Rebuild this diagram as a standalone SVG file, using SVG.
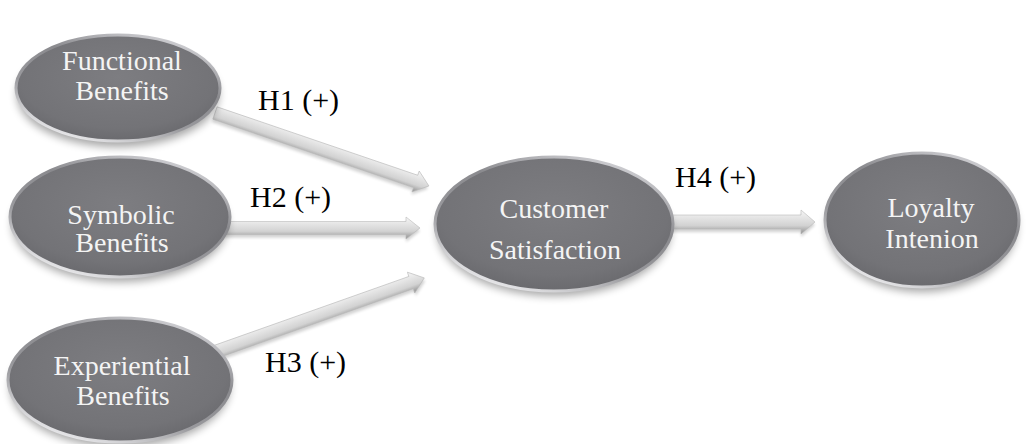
<svg xmlns="http://www.w3.org/2000/svg" width="1027" height="444" viewBox="0 0 1027 444">
  <defs>
    <radialGradient id="nodeFill" cx="0.5" cy="0.4" r="0.6">
      <stop offset="0" stop-color="#7d7d81"/>
      <stop offset="0.8" stop-color="#737377"/>
      <stop offset="1" stop-color="#6a6a6e"/>
    </radialGradient>
    <linearGradient id="rim" x1="0.8" y1="0" x2="0.2" y2="1">
      <stop offset="0" stop-color="#d8d8dc"/>
      <stop offset="0.35" stop-color="#8a8a8e"/>
      <stop offset="0.65" stop-color="#9a9a9e"/>
      <stop offset="1" stop-color="#f4f4f6"/>
    </linearGradient>
    <linearGradient id="arrowFill" x1="0" y1="0" x2="0" y2="1">
      <stop offset="0" stop-color="#f6f6f6"/>
      <stop offset="0.3" stop-color="#e6e6e6"/>
      <stop offset="0.65" stop-color="#d2d2d2"/>
      <stop offset="0.85" stop-color="#ababab"/>
      <stop offset="1" stop-color="#909090"/>
    </linearGradient>
    <filter id="shadow" x="-20%" y="-20%" width="140%" height="150%">
      <feGaussianBlur stdDeviation="4"/>
    </filter>
    <filter id="ashadow" x="-10%" y="-50%" width="120%" height="200%">
      <feGaussianBlur stdDeviation="1.5"/>
    </filter>
  </defs>
  <style>
    .shadow { fill: #000; opacity: 0.35; filter: url(#shadow); }
    .node { fill: url(#nodeFill); stroke: url(#rim); stroke-width: 3; }
    .ntext { font-family: "Liberation Serif", "Times New Roman", serif; font-size: 28px; fill: #f4f4f4; text-anchor: middle; }
    .label { font-family: "Liberation Serif", "Times New Roman", serif; font-size: 30px; fill: #000; }
    .arrow { fill: url(#arrowFill); stroke: #b8b8b8; stroke-width: 0.6; }
    .ashadow { fill: #000; opacity: 0.18; filter: url(#ashadow); }
  </style>
  <rect width="1027" height="444" fill="#ffffff"/>

  <g id="connectors">
    <g id="arrow-h1" transform="translate(215,113) rotate(18.83)">
      <path class="ashadow" transform="translate(0,3)" d="M0,-6.5 L212,-6.5 L212,-11 L226,0 L212,11 L212,6.5 L0,6.5 Z"/>
      <path class="arrow" d="M0,-6.5 L212,-6.5 L212,-11 L226,0 L212,11 L212,6.5 L0,6.5 Z"/>
    </g>
    <g id="arrow-h2" transform="translate(222,228)">
      <path class="ashadow" transform="translate(0,3)" d="M0,-6.5 L184,-6.5 L184,-11 L198,0 L184,11 L184,6.5 L0,6.5 Z"/>
      <path class="arrow" d="M0,-6.5 L184,-6.5 L184,-11 L198,0 L184,11 L184,6.5 L0,6.5 Z"/>
    </g>
    <g id="arrow-h3" transform="translate(215,352) rotate(-19.5)">
      <path class="ashadow" transform="translate(0,3)" d="M0,-6.5 L208,-6.5 L208,-11 L222,0 L208,11 L208,6.5 L0,6.5 Z"/>
      <path class="arrow" d="M0,-6.5 L208,-6.5 L208,-11 L222,0 L208,11 L208,6.5 L0,6.5 Z"/>
    </g>
    <g id="arrow-h4" transform="translate(668,222)">
      <path class="ashadow" transform="translate(0,3)" d="M0,-7 L133,-7 L133,-12 L147,0 L133,12 L133,7 L0,7 Z"/>
      <path class="arrow" d="M0,-7 L133,-7 L133,-12 L147,0 L133,12 L133,7 L0,7 Z"/>
    </g>
    <text class="label" x="258" y="110">H1 (+)</text>
    <text class="label" x="250" y="207">H2 (+)</text>
    <text class="label" x="265" y="372">H3 (+)</text>
    <text class="label" x="675" y="187">H4 (+)</text>
  </g>

  <g id="node-functional">
    <ellipse class="shadow" cx="118" cy="95" rx="101" ry="52"/>
    <ellipse class="node" cx="118" cy="88" rx="102" ry="53"/>
    <text class="ntext" x="122" y="70">Functional</text>
    <text class="ntext" x="122" y="100">Benefits</text>
  </g>

  <g id="node-symbolic">
    <ellipse class="shadow" cx="120" cy="224" rx="108" ry="58"/>
    <ellipse class="node" cx="120" cy="217" rx="110" ry="60"/>
    <text class="ntext" x="121" y="224">Symbolic</text>
    <text class="ntext" x="122" y="252">Benefits</text>
  </g>

  <g id="node-experiential">
    <ellipse class="shadow" cx="120" cy="387" rx="110" ry="60"/>
    <ellipse class="node" cx="120" cy="380" rx="112" ry="62"/>
    <text class="ntext" x="122" y="375">Experiential</text>
    <text class="ntext" x="123" y="405">Benefits</text>
  </g>

  <g id="node-satisfaction">
    <ellipse class="shadow" cx="554" cy="231" rx="117" ry="65"/>
    <ellipse class="node" cx="554" cy="224" rx="119" ry="67"/>
    <text class="ntext" x="554" y="218">Customer</text>
    <text class="ntext" x="555" y="259">Satisfaction</text>
  </g>

  <g id="node-loyalty">
    <ellipse class="shadow" cx="922" cy="227" rx="95" ry="65"/>
    <ellipse class="node" cx="922" cy="220" rx="97" ry="67"/>
    <text class="ntext" x="931" y="217">Loyalty</text>
    <text class="ntext" x="932" y="248">Intenion</text>
  </g>
</svg>
